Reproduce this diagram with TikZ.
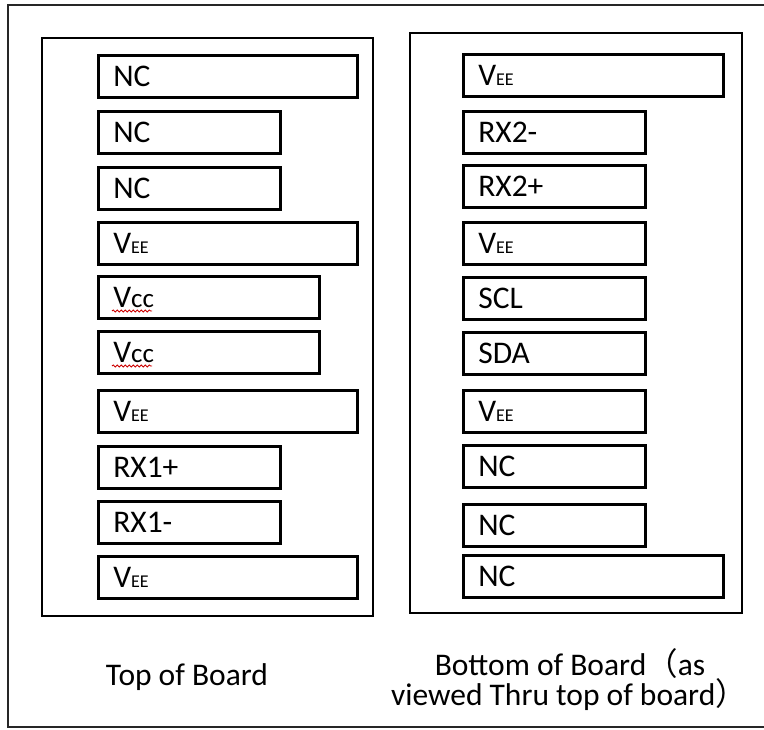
\documentclass[tikz,border=0pt]{standalone}
\usepackage{fontspec}
\setmainfont{Carlito}
\newfontfamily\cjkfont{Noto Sans CJK SC}
\usetikzlibrary{decorations.pathmorphing}
\newcommand\pinVEE{V{\fontsize{18}{18}\selectfont EE}}
\newcommand\pinVCC{V{\fontsize{27}{27}\selectfont cc}}
\begin{document}
\begin{tikzpicture}[x=1pt,y=-1pt,
  mainfont/.style={font=\fontsize{31.5}{36}\selectfont},
  pinbox/.style={draw, line width=2.6, inner xsep=15, inner ysep=0,
    minimum height=42, anchor=north west, align=left, mainfont},
  longL/.style={pinbox, text width=229},
  midL/.style={pinbox, text width=191},
  shortL/.style={pinbox, text width=152},
  longR/.style={pinbox, text width=230},
  shortR/.style={pinbox, text width=152},
  panel/.style={draw, line width=2.6},
  frame/.style={draw=black!85, line width=2},
  squiggle/.style={draw=red!80!black, line width=0.8,
    decorate, decoration={snake, segment length=4, amplitude=1.1}},
  caption/.style={mainfont, anchor=base, inner sep=0}
]
\useasboundingbox (0,0) rectangle (764,730);
\draw[frame] (8,5) rectangle (770,727);
% panels
\draw[panel] (42,38) rectangle (373,616);
\draw[panel] (410,33) rectangle (742,613);
% left column
\node[longL]  (L1)  at (97,54)  {NC};
\node[shortL] (L2)  at (97,110) {NC};
\node[shortL] (L3)  at (97,166) {NC};
\node[longL]  (L4)  at (97,221) {\pinVEE};
\node[midL]   (L5)  at (97,275) {\pinVCC};
\node[midL]   (L6)  at (97,330) {\pinVCC};
\node[longL]  (L7)  at (97,389) {\pinVEE};
\node[shortL] (L8)  at (97,445) {RX1+};
\node[shortL] (L9)  at (97,500) {RX1-};
\node[longL]  (L10) at (97,555) {\pinVEE};
% spell-check squiggles under Vcc
\coordinate (s1a) at (112,311); \coordinate (s1b) at (152,311);
\coordinate (s2a) at (112,366); \coordinate (s2b) at (152,366);
\draw[squiggle] (s1a) -- (s1b);
\draw[squiggle] (s2a) -- (s2b);
% right column
\node[longR]  (R1)  at (462,53)  {\pinVEE};
\node[shortR] (R2)  at (462,110) {RX2-};
\node[shortR] (R3)  at (462,164) {RX2+};
\node[shortR] (R4)  at (462,221) {\pinVEE};
\node[shortR] (R5)  at (462,276) {SCL};
\node[shortR] (R6)  at (462,331) {SDA};
\node[shortR] (R7)  at (462,389) {\pinVEE};
\node[shortR] (R8)  at (462,444) {NC};
\node[shortR] (R9)  at (462,503) {NC};
\node[longR]  (R10) at (462,554) {NC};
% captions
\node[caption] (capL)  at (187,685) {Top of Board};
\node[caption] (capR1) at (570,675) {Bottom of Board{\cjkfont （}as};
\node[caption] (capR2) at (569,705) {viewed Thru top of board{\cjkfont ）}};
\end{tikzpicture}
\end{document}
